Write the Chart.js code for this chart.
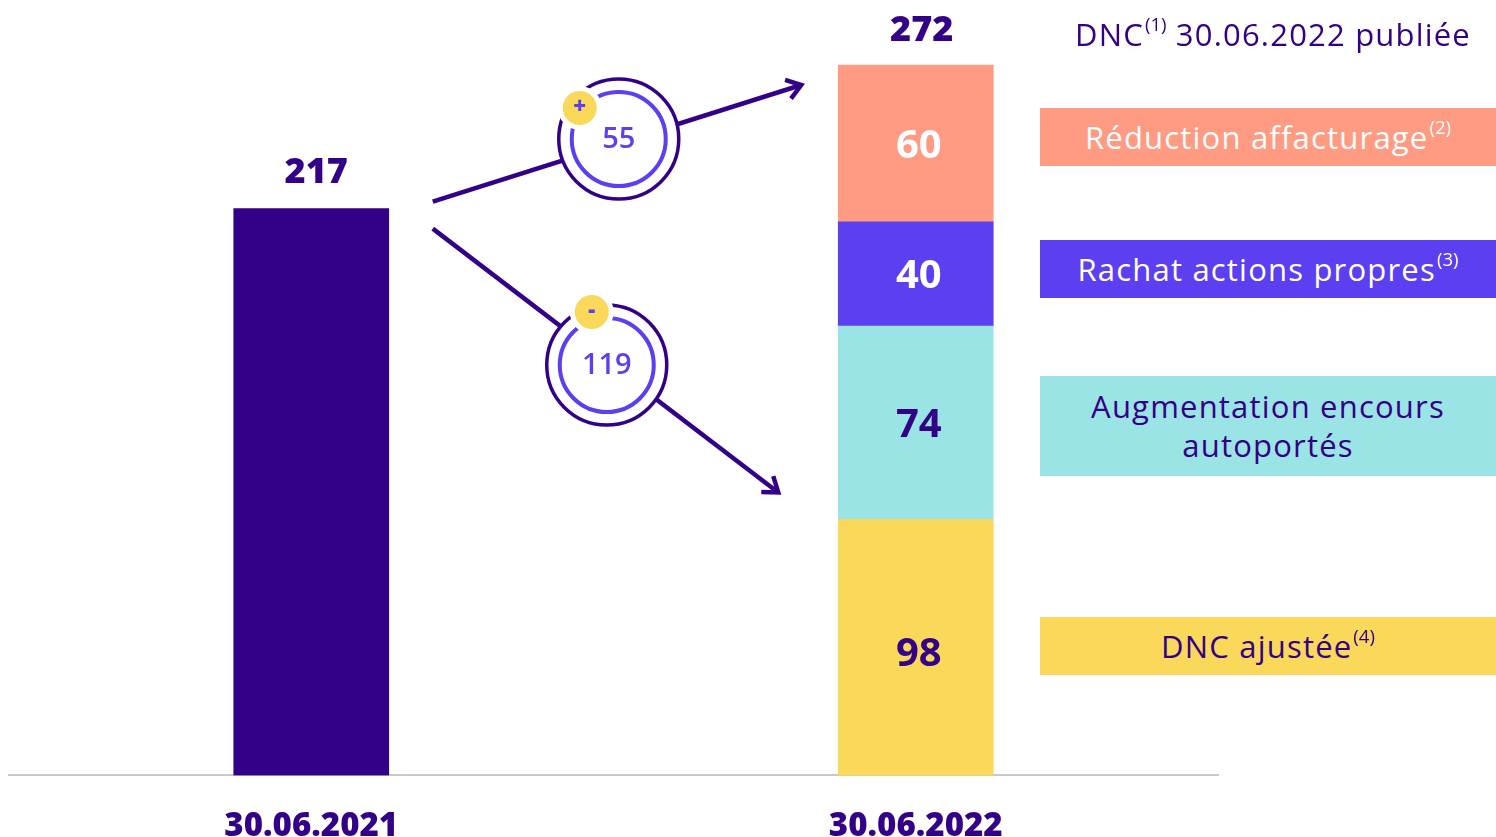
<!DOCTYPE html>
<html>
<head>
<meta charset="utf-8">
<script src="https://cdn.jsdelivr.net/npm/chart.js@4/dist/chart.umd.min.js"></script>
<style>
  html,body{margin:0;padding:0;background:#fff;overflow:hidden;}
  #wrap{position:relative;width:1496px;height:837px;font-family:"Open Sans",sans-serif;}
  canvas{position:absolute;left:0;top:0;}
  .lg{position:absolute;left:1040px;width:456px;display:flex;align-items:center;justify-content:center;text-align:center;font-size:31px;line-height:39px;letter-spacing:1.2px;}
  .lg sup{font-size:0.6em;vertical-align:0;position:relative;top:-0.55em;letter-spacing:0;margin-left:1px;}
</style>
</head>
<body>
<div id="wrap">
  <canvas id="c" width="1496" height="837"></canvas>
  <div class="lg" style="top:12px;height:44px;width:466px;color:#330088;font-size:31px;">DNC<sup>(1)</sup>&nbsp;30.06.2022 publiée</div>
  <div class="lg" style="top:108px;height:58px;background:#ff9b82;color:#fff;">Réduction affacturage<sup>(2)</sup></div>
  <div class="lg" style="top:240px;height:58px;background:#5b3ff0;color:#fff;">Rachat actions propres<sup>(3)</sup></div>
  <div class="lg" style="top:376px;height:100px;background:#9be4e6;color:#330088;">Augmentation encours<br>autoportés</div>
  <div class="lg" style="top:617px;height:58px;background:#f9d85a;color:#330088;">DNC ajustée<sup>(4)</sup></div>
</div>
<script>
const categories = ["30.06.2021", "30.06.2022"];
const dncPubliee2021 = [217, null];
const dncAjustee = [null, 98];
const encoursAutoportes = [null, 74];
const rachatActions = [null, 40];
const reductionAffacturage = [null, 60];
const totalLabels = ["217", "272"];
const bridgePlus = "55";
const bridgeMinus = "119";

const DARK = "#330088", VIOLET = "#5b3ff0", SALMON = "#ff9b82", CYAN = "#9be4e6", YELLOW = "#f9d85a";
const FONT = '"Open Sans", sans-serif';

const segLabelColors = {1: DARK, 2: DARK, 3: "#fff", 4: "#fff"};

const annot = {
  id: "annot",
  afterDatasetsDraw(chart) {
    const ctx = chart.ctx, xs = chart.scales.x, ys = chart.scales.y;
    const half = 77.5;
    const x0 = xs.getPixelForValue(0), x1 = xs.getPixelForValue(1);
    ctx.save();
    ctx.textAlign = "center"; ctx.textBaseline = "middle";
    ctx.fillStyle = DARK; ctx.font = "800 36px " + FONT;
    ctx.fillText(totalLabels[0], x0 + 5, ys.getPixelForValue(dncPubliee2021[0]) - 36);
    const tot = dncAjustee[1] + encoursAutoportes[1] + rachatActions[1] + reductionAffacturage[1];
    ctx.fillText(totalLabels[1], x1 + 6, ys.getPixelForValue(tot) - 34);
    ctx.font = "700 40px " + FONT;
    for (let d = 1; d <= 4; d++) {
      const meta = chart.getDatasetMeta(d);
      const el = meta.data[1];
      if (!el) continue;
      const v = chart.data.datasets[d].data[1];
      ctx.fillStyle = segLabelColors[d];
      let yc = (el.y + el.base) / 2 + 3;
      if (d === 1) yc += 4;
      ctx.fillText(String(v), el.x + 3, yc);
    }
    const top217 = ys.getPixelForValue(dncPubliee2021[0]);
    const barL1 = x1 - half, barR0 = x0 + half;
    const arrows = [
      {sx: barR0 + 44, sy: top217 - 7, ex: barL1 - 37, ey: ys.getPixelForValue(tot) + 20,
       cx: 619, cy: 139, sign: "+", txt: bridgePlus, yx: 580, yy: 108},
      {sx: barR0 + 44, sy: top217 + 20, ex: barL1 - 60, ey: ys.getPixelForValue(dncAjustee[1]) - 27,
       cx: 607, cy: 365, sign: "-", txt: bridgeMinus, yx: 592, yy: 312}
    ];
    ctx.strokeStyle = DARK; ctx.lineWidth = 4.5; ctx.lineCap = "butt";
    for (const a of arrows) {
      ctx.beginPath(); ctx.moveTo(a.sx, a.sy); ctx.lineTo(a.ex, a.ey); ctx.stroke();
      const ang = Math.atan2(a.ey - a.sy, a.ex - a.sx);
      const L = 17, spread = 0.62;
      ctx.beginPath();
      ctx.moveTo(a.ex - L * Math.cos(ang - spread), a.ey - L * Math.sin(ang - spread));
      ctx.lineTo(a.ex, a.ey);
      ctx.lineTo(a.ex - L * Math.cos(ang + spread), a.ey - L * Math.sin(ang + spread));
      ctx.lineJoin = "miter";
      ctx.stroke();
    }
    for (const a of arrows) {
      const cx = a.cx - 389 + barR0, cy = a.cy;
      ctx.beginPath(); ctx.arc(cx, cy, 60, 0, Math.PI * 2);
      ctx.fillStyle = "#fff"; ctx.fill();
      ctx.lineWidth = 3.5; ctx.strokeStyle = DARK; ctx.stroke();
      ctx.beginPath(); ctx.arc(cx, cy, 47, 0, Math.PI * 2);
      ctx.lineWidth = 4; ctx.strokeStyle = VIOLET; ctx.stroke();
      const yx = a.yx - 389 + barR0;
      ctx.beginPath(); ctx.arc(yx, a.yy, 22, 0, Math.PI * 2);
      ctx.fillStyle = "#fff"; ctx.fill();
      ctx.beginPath(); ctx.arc(yx, a.yy, 17, 0, Math.PI * 2);
      ctx.fillStyle = YELLOW; ctx.fill();
      ctx.fillStyle = VIOLET; ctx.font = "800 22px " + FONT;
      ctx.fillText(a.sign, yx, a.yy + (a.sign === "-" ? -1 : 0));
      ctx.font = "600 29px " + FONT;
      ctx.fillText(a.txt, cx, cy + 1);
    }
    ctx.restore();
  }
};

new Chart(document.getElementById("c"), {
  type: "bar",
  data: {
    labels: categories,
    datasets: [
      {label: "DNC publiée 30.06.2021", data: dncPubliee2021, backgroundColor: DARK},
      {label: "DNC ajustée", data: dncAjustee, backgroundColor: YELLOW},
      {label: "Augmentation encours autoportés", data: encoursAutoportes, backgroundColor: CYAN},
      {label: "Rachat actions propres", data: rachatActions, backgroundColor: VIOLET},
      {label: "Réduction affacturage", data: reductionAffacturage, backgroundColor: SALMON}
    ]
  },
  options: {
    responsive: false,
    animation: false,
    devicePixelRatio: 1,
    barThickness: 155,
    layout: {padding: {left: 9, right: 278, top: 18, bottom: -40}},
    plugins: {legend: {display: false}, tooltip: {enabled: false}},
    scales: {
      x: {
        stacked: true,
        grid: {display: false, drawTicks: false},
        border: {display: true, color: "#c8c8c8", width: 2},
        ticks: {color: DARK, font: {family: FONT, size: 33, weight: "800"}, padding: 31}
      },
      y: {
        stacked: true, display: false, min: 0, max: 290
      }
    }
  },
  plugins: [annot]
});
</script>
</body>
</html>
